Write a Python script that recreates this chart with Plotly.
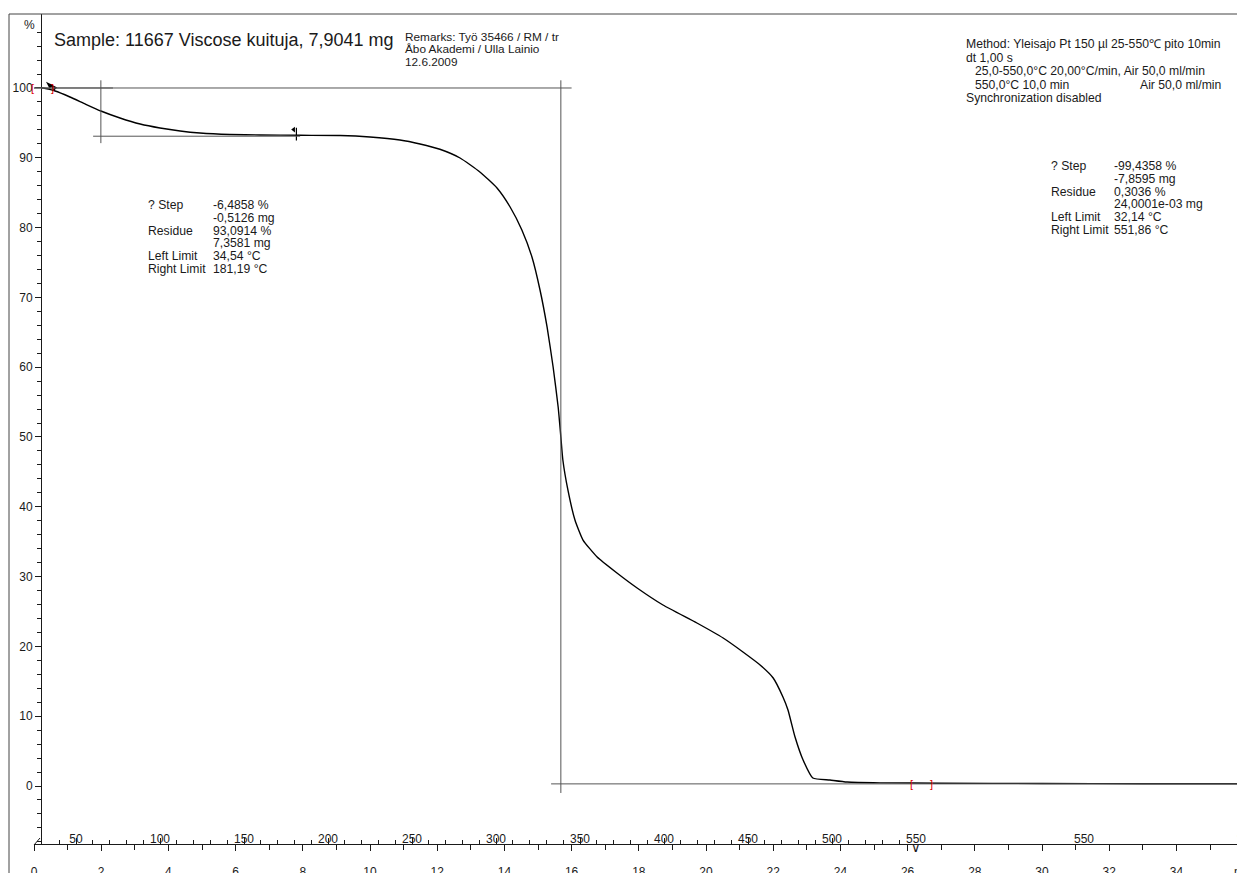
import plotly.graph_objects as go

# ---------------- data ----------------
time_min = [0.21, 0.27, 0.63, 1.07, 1.52, 1.99, 2.56, 3.16, 3.75, 4.35, 4.94, 5.83, 6.73, 7.92,
            9.11, 10.0, 10.89, 11.49, 12.08, 12.68, 13.27, 13.78, 14.17, 14.52, 14.82, 15.06,
            15.27, 15.45, 15.60, 15.68, 15.74, 15.89, 16.10, 16.34, 16.76, 17.35, 17.95, 18.72,
            19.73, 20.51, 21.10, 21.61, 22.0, 22.29, 22.44, 22.65, 22.89, 23.18, 23.69, 24.20,
            25.18, 27.0, 30.0, 33.0, 36.04]
mass_pct = [100.0, 100.0, 99.57, 98.71, 97.71, 96.70, 95.70, 94.84, 94.27, 93.84, 93.55, 93.34,
            93.27, 93.22, 93.19, 92.98, 92.55, 91.98, 91.22, 89.97, 87.97, 85.67, 82.95, 79.66,
            75.79, 71.06, 65.76, 60.03, 54.30, 50.0, 46.70, 42.41, 38.11, 35.24, 32.81, 30.52,
            28.37, 25.93, 23.35, 21.20, 19.20, 17.34, 15.47, 12.75, 10.89, 7.02, 3.72, 1.15,
            0.86, 0.57, 0.45, 0.40, 0.36, 0.33, 0.31]

T_START = 25.0       # degC
RATE = 20.0          # degC/min
T_END = 550.0

time_ticks = list(range(0, 37, 2))
time_ticktext = [str(v) for v in time_ticks[:-1]] + ["min"]
time_minor = list(range(1, 36, 2))

temp_major = list(range(50, 501, 50))
temp_minor = [v for v in range(40, 541, 10) if v % 50 != 0]
temp_label_vals = list(range(50, 551, 50)) + [650, 745]
temp_label_text = [str(v) for v in range(50, 551, 50)] + ["550", "°C"]

y_ticks = list(range(0, 101, 10))
y_minor = [v for v in range(-8, 111, 2) if v % 10 != 0]

step1_residue = 93.0914
step2_residue = 0.3036
step1_label = ["? Step", "", "Residue", "", "Left Limit", "Right Limit"]
step1_value = ["-6,4858 %", "-0,5126 mg", "93,0914 %", "7,3581 mg", "34,54 °C", "181,19 °C"]
step2_label = ["? Step", "", "Residue", "", "Left Limit", "Right Limit"]
step2_value = ["-99,4358 %", "-7,8595 mg", "0,3036 %", "24,0001e-03 mg", "32,14 °C", "551,86 °C"]
step1_left_T, step1_right_T = 34.54, 181.19
step2_left_T = 32.14

title_text = "Sample: 11667 Viscose kuituja, 7,9041 mg"
remarks_lines = ["Remarks: Työ 35466 / RM / tr", "Åbo Akademi / Ulla Lainio", "12.6.2009"]
method_lines = ["Method: Yleisajo Pt 150 µl 25-550℃ pito 10min", "dt 1,00 s",
                "25,0-550,0°C 20,00°C/min, Air 50,0 ml/min", "550,0°C 10,0 min",
                "Synchronization disabled"]
method_indent = [0, 0, 1, 1, 0]
method_right = "Air 50,0 ml/min"

red_bracket_t = [-0.03, 0.54, 26.13, 26.70]
red_bracket_y = [100.0, 100.0, step2_residue, step2_residue]
red_bracket_txt = ["[", "]", "[", "]"]

# ---------------- geometry ----------------
W, H = 1245, 873
OFF = 8                      # page offset of the figure div (body margin)
PLOT_X0, PLOT_Y0 = 34, 14    # page coords of plot-area top-left
PLOT_X1, PLOT_Y1 = 1245, 844 # page coords of plot-area right / x-axis line
L = PLOT_X0 - OFF
T = PLOT_Y0 - OFF
R = W - (PLOT_X1 - OFF)
B = H - (PLOT_Y1 - OFF)
PW, PH = PLOT_X1 - PLOT_X0, PLOT_Y1 - PLOT_Y0
PXPMIN = 33.6
XMAX = PW / PXPMIN
YMAX, YMIN = 110.6, -8.31

def px(x):
    return (x - PLOT_X0) / PW

def py(y):
    return (PLOT_Y1 - y) / PH

def t_of_T(temp):
    return (temp - T_START) / RATE

FONT = "Liberation Sans, Arial, sans-serif"
INK = "#1a1a1a"
LINEC = "#555555"
SMALL = 12.2

fig = go.Figure()
fig.add_trace(go.Scatter(x=time_min, y=mass_pct, mode="lines",
                         line=dict(color="black", width=1.4, shape="spline", smoothing=0.5),
                         hoverinfo="skip", showlegend=False, cliponaxis=False))
heat_T = [T_START + RATE * t for t in time_min if T_START + RATE * t <= T_END]
fig.add_trace(go.Scatter(x=heat_T, y=mass_pct[:len(heat_T)], xaxis="x2", mode="lines",
                         line=dict(width=0), opacity=0, hoverinfo="skip", showlegend=False))
fig.add_trace(go.Scatter(x=heat_T, y=mass_pct[:len(heat_T)], xaxis="x3", mode="lines",
                         line=dict(width=0), opacity=0, hoverinfo="skip", showlegend=False))

# limit markers
fig.add_trace(go.Scatter(x=[t_of_T(step1_left_T), t_of_T(step2_left_T)], y=[100.6, 100.9],
                         mode="markers", marker=dict(symbol="arrow", angle=-45, size=8, color="black"),
                         hoverinfo="skip", showlegend=False, cliponaxis=False))
fig.add_trace(go.Scatter(x=[t_of_T(step1_right_T)], y=[step1_residue + 0.3], mode="markers",
                         marker=dict(symbol="line-ns-open", size=9, color="black",
                                     line=dict(width=1.2, color="black")),
                         hoverinfo="skip", showlegend=False))
fig.add_trace(go.Scatter(x=[t_of_T(step1_right_T) - 0.08], y=[step1_residue + 0.95], mode="markers",
                         marker=dict(symbol="triangle-left", size=5, color="black"),
                         hoverinfo="skip", showlegend=False))

shapes = []
def seg(x0, y0, x1, y1, color=LINEC, width=1):
    shapes.append(dict(type="line", xref="x", yref="y", x0=x0, y0=y0, x1=x1, y1=y1,
                       line=dict(color=color, width=width)))

# step 1 construction lines
seg(0, 100, 2.35, 100)
seg(1.76, step1_residue, 7.92, step1_residue)
seg(1.99, 92.1, 1.99, 101.1)
# step 2 construction lines
seg(0, 100, 16.0, 100)
seg(15.39, step2_residue, XMAX, step2_residue)
seg(15.68, -1.0, 15.68, 101.1)

# frame lines
shapes.append(dict(type="line", xref="paper", yref="paper", x0=px(9), y0=py(14), x1=px(W + 10), y1=py(14),
                   line=dict(color="#444", width=1)))
shapes.append(dict(type="line", xref="paper", yref="paper", x0=px(9), y0=py(14), x1=px(9), y1=py(H + 10),
                   line=dict(color="#444", width=1)))
# slash at axis start
shapes.append(dict(type="line", xref="paper", yref="paper", x0=px(34), y0=py(845), x1=px(40), y1=py(838),
                   line=dict(color=INK, width=1)))

ann = []
def txt(x, y, s, size=SMALL, anchor="left", color=INK):
    ann.append(dict(x=px(x), y=py(y), xref="paper", yref="paper", text=s, showarrow=False,
                    xanchor=anchor, yanchor="middle", font=dict(family=FONT, size=size, color=color)))

txt(22, 25, "%", size=12)
txt(52, 40, title_text, size=18)
for i, s in enumerate(remarks_lines):
    txt(403, 37 + 12.3 * i, s, size=11.8)
for i, s in enumerate(method_lines):
    txt(964 + 9 * method_indent[i], 44.5 + 13.5 * i, s)
txt(1223, 44.5 + 13.5 * 3, method_right, anchor="right")
for i, (a, b) in enumerate(zip(step1_label, step1_value)):
    if a:
        txt(146, 205 + 12.8 * i, a)
    txt(211, 205 + 12.8 * i, b)
for i, (a, b) in enumerate(zip(step2_label, step2_value)):
    if a:
        txt(1049, 166 + 12.8 * i, a)
    txt(1112, 166 + 12.8 * i, b)

# red range brackets (placed in paper units derived from the axis ranges)
for t, y, s in zip(red_bracket_t, red_bracket_y, red_bracket_txt):
    ann.append(dict(x=t / XMAX, y=(y - YMIN) / (YMAX - YMIN), xref="paper", yref="paper", text=s,
                    showarrow=False, xanchor="center", yanchor="middle",
                    font=dict(family=FONT, size=11, color="#e00000")))
# 550 degC arrow mark on the axis
ann.append(dict(x=t_of_T(T_END), y=py(848), xref="x", yref="paper", text="∨", showarrow=False,
                yanchor="middle", font=dict(family=FONT, size=13, color=INK)))

axis_common = dict(showgrid=False, zeroline=False, tickcolor=INK, automargin=False)

fig.update_layout(
    width=W, height=H, template="none",
    margin=dict(l=L, r=R, t=T, b=B, pad=0),
    paper_bgcolor="white", plot_bgcolor="white",
    showlegend=False,
    xaxis=dict(domain=[0, 1], range=[0, XMAX], anchor="y", tickmode="array",
               tickvals=time_ticks, ticktext=time_ticktext, ticks="outside", ticklen=6,
               showline=True, linecolor=INK, linewidth=1, ticklabelstandoff=11,
               ticklabeloverflow="allow",
               tickfont=dict(family=FONT, size=12, color=INK),
               minor=dict(tickvals=time_minor, ticks="outside", ticklen=5, tickcolor=INK, showgrid=False),
               **axis_common),
    xaxis2=dict(overlaying="x", anchor="y", side="bottom", range=[T_START, T_START + RATE * XMAX],
                tickmode="array", tickvals=temp_major, ticks="inside", ticklen=6, showticklabels=False,
                showline=False,
                minor=dict(tickvals=temp_minor, ticks="inside", ticklen=4, tickcolor=INK, showgrid=False),
                **axis_common),
    xaxis3=dict(overlaying="x", anchor="y", side="bottom", range=[T_START, T_START + RATE * XMAX],
                tickmode="array", tickvals=temp_label_vals, ticktext=temp_label_text, ticks="",
                ticklabelposition="inside", ticklabelstandoff=-4, ticklabeloverflow="allow",
                showline=False,
                tickfont=dict(family=FONT, size=12, color=INK), **axis_common),
    yaxis=dict(range=[YMIN, YMAX], anchor="free", position=7 / PW, tickmode="array",
               tickvals=y_ticks, ticks="outside", ticklen=6, showline=True, linecolor=INK, linewidth=1,
               tickfont=dict(family=FONT, size=12, color=INK),
               minor=dict(tickvals=y_minor, ticks="outside", ticklen=4, tickcolor=INK, showgrid=False),
               **axis_common),
    shapes=shapes,
    annotations=ann,
)

fig.write_html("out.html")
